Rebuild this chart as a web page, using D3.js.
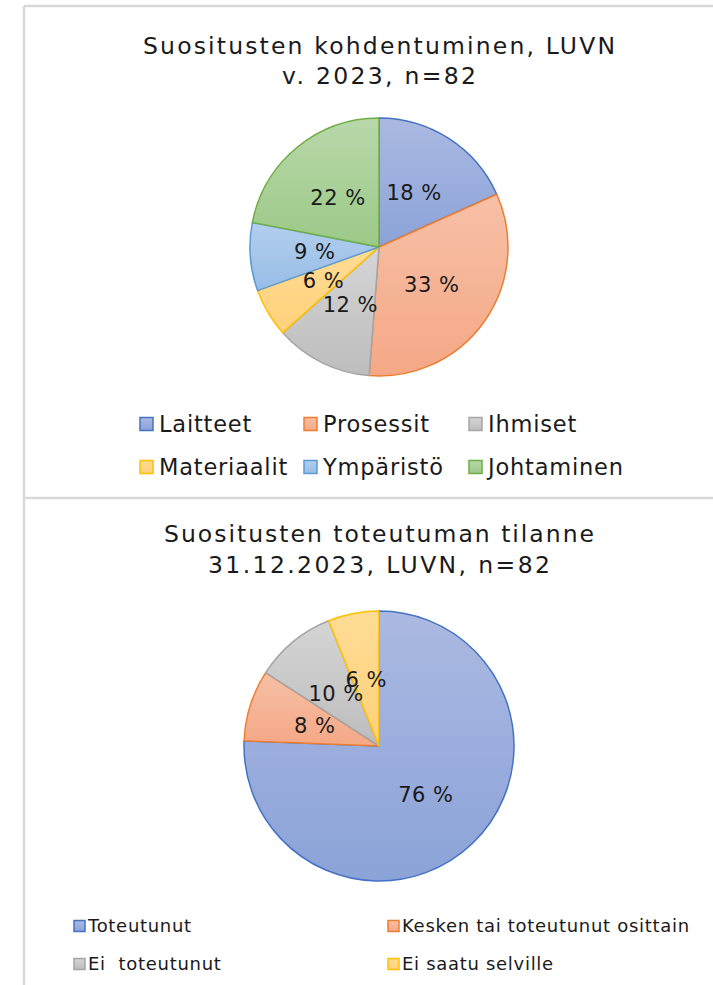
<!DOCTYPE html>
<html>
<head>
<meta charset="utf-8">
<script src="https://cdn.jsdelivr.net/npm/d3@7/dist/d3.min.js"></script>
<style>
  html, body { margin: 0; padding: 0; background: #ffffff; }
  svg { display: block; }
  text { font-family: "DejaVu Sans", Verdana, sans-serif; fill: #1a1a1a; }
</style>
</head>
<body>
<svg id="chart" width="713" height="985"></svg>
<script>
// ---- Data ----
const title1 = ["Suositusten kohdentuminen, LUVN", "v. 2023, n=82"];
const categories1 = ["Laitteet", "Prosessit", "Ihmiset", "Materiaalit", "Ympäristö", "Johtaminen"];
const values1 = [15, 27, 10, 5, 7, 18];          // counts, n = 82
const labels1 = ["18 %", "33 %", "12 %", "6 %", "9 %", "22 %"];

const title2 = ["Suositusten toteutuman tilanne", "31.12.2023, LUVN, n=82"];
const categories2 = ["Toteutunut", "Kesken tai toteutunut osittain", "Ei  toteutunut", "Ei saatu selville"];
const values2 = [62, 7, 8, 5];                    // counts, n = 82
const labels2 = ["76 %", "8 %", "10 %", "6 %"];

// ---- Styles ----
const palette = {
  blue:   { top: "#abb9e2", bottom: "#8ba3d8", stroke: "#4472c4" },
  orange: { top: "#f7c0a6", bottom: "#f4a886", stroke: "#ed7d31" },
  gray:   { top: "#d5d5d5", bottom: "#bdbdbd", stroke: "#a5a5a5" },
  yellow: { top: "#ffdc95", bottom: "#ffd17a", stroke: "#ffc000" },
  lblue:  { top: "#b2ceee", bottom: "#98bde6", stroke: "#5b9bd5" },
  green:  { top: "#b8d8aa", bottom: "#9cc987", stroke: "#70ad47" }
};
const colors1 = ["blue", "orange", "gray", "yellow", "lblue", "green"];
const colors2 = ["blue", "orange", "gray", "yellow"];

const svg = d3.select("#chart");
svg.append("rect").attr("width", 713).attr("height", 985).attr("fill", "#ffffff");

// gradients
const defs = svg.append("defs");
Object.entries(palette).forEach(([k, c]) => {
  const g = defs.append("linearGradient").attr("id", "grad-" + k)
    .attr("x1", 0).attr("y1", 0).attr("x2", 0).attr("y2", 1);
  g.append("stop").attr("offset", "0%").attr("stop-color", c.top);
  g.append("stop").attr("offset", "100%").attr("stop-color", c.bottom);
});

// frame lines
const frame = svg.append("g").attr("stroke", "#d9d9d9").attr("stroke-width", 2.5).attr("fill", "none");
frame.append("line").attr("x1", 24).attr("x2", 713).attr("y1", 6).attr("y2", 6);
frame.append("line").attr("x1", 24).attr("x2", 24).attr("y1", 6).attr("y2", 985);
frame.append("line").attr("x1", 24).attr("x2", 713).attr("y1", 498).attr("y2", 498);

function drawPie(cfg) {
  const g = svg.append("g");
  // title
  cfg.title.forEach((t, i) => {
    g.append("text").attr("x", cfg.cx).attr("y", cfg.titleY + i * cfg.titleGap)
      .attr("text-anchor", "middle").attr("font-size", cfg.titleSize)
      .attr("textLength", cfg.titleWidths[i]).attr("lengthAdjust", "spacing")
      .text(t);
  });
  const pie = d3.pie().sort(null).value(d => d.v);
  const arcs = pie(cfg.values.map((v, i) => ({ v, i })));
  const arc = d3.arc().innerRadius(0).outerRadius(cfg.r);
  const pg = g.append("g").attr("transform", `translate(${cfg.cx},${cfg.cy})`);
  pg.selectAll("path").data(arcs).join("path")
    .attr("d", arc)
    .attr("fill", d => `url(#grad-${cfg.colors[d.data.i]})`)
    .attr("stroke", d => palette[cfg.colors[d.data.i]].stroke)
    .attr("stroke-width", 1.5)
    .attr("stroke-linejoin", "round");
  pg.selectAll("text").data(arcs).join("text")
    .attr("transform", d => `translate(${arc.centroid(d)})`)
    .attr("text-anchor", "middle").attr("dy", "0.36em")
    .attr("font-size", cfg.labelSize)
    .attr("letter-spacing", cfg.labelSpacing)
    .text(d => cfg.labels[d.data.i]);
  // legend
  const lg = g.append("g");
  cfg.categories.forEach((c, i) => {
    const col = i % cfg.legendCols, row = Math.floor(i / cfg.legendCols);
    const x = cfg.legendX[col], y = cfg.legendY[row];
    const s = cfg.markerSize;
    lg.append("rect").attr("x", x).attr("y", y - s / 2).attr("width", s).attr("height", s)
      .attr("fill", `url(#grad-${cfg.colors[i]})`)
      .attr("stroke", palette[cfg.colors[i]].stroke).attr("stroke-width", 1.5);
    lg.append("text").attr("x", x + s + cfg.markerGap).attr("y", y).attr("dy", "0.36em")
      .attr("font-size", cfg.legendSize).attr("letter-spacing", cfg.legendSpacing)
      .style("white-space", "pre").text(c);
  });
}

drawPie({
  title: title1, titleY: 54, titleGap: 30, titleSize: 23.5, titleWidths: [472, 194],
  values: values1, labels: labels1, categories: categories1, colors: colors1,
  cx: 379, cy: 247, r: 129, labelSize: 21, labelSpacing: 0.5,
  legendCols: 3, legendX: [140, 304, 469], legendY: [424, 467],
  markerSize: 13, markerGap: 6, legendSize: 22.5, legendSpacing: 0.8
});

drawPie({
  title: title2, titleY: 542, titleGap: 31, titleSize: 23.5, titleWidths: [430, 342],
  values: values2, labels: labels2, categories: categories2, colors: colors2,
  cx: 379, cy: 746, r: 135, labelSize: 21, labelSpacing: 0.5,
  legendCols: 2, legendX: [74, 388], legendY: [926, 964],
  markerSize: 11, markerGap: 3, legendSize: 18, legendSpacing: 0.7
});
</script>
</body>
</html>
